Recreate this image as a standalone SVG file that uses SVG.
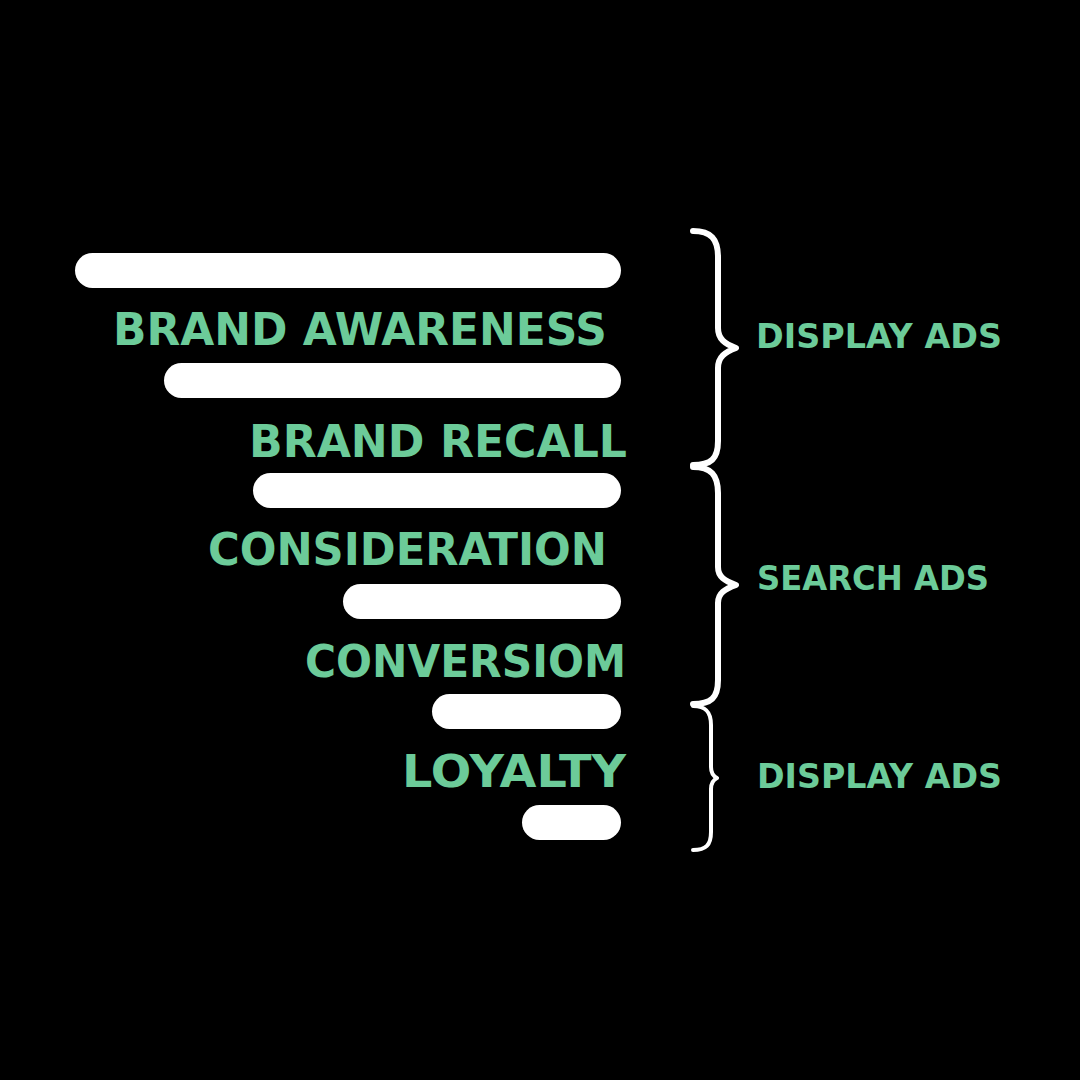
<svg xmlns="http://www.w3.org/2000/svg" width="1080" height="1080" viewBox="0 0 1080 1080">
<style>
.bar{fill:#ffffff}
.lbl{font-family:"DejaVu Sans","Liberation Sans",sans-serif;font-weight:bold;fill:#6ccb99;font-size:44px;text-anchor:end}
.ads{font-family:"DejaVu Sans","Liberation Sans",sans-serif;font-weight:bold;fill:#6ccb99;font-size:33px}
.brace{fill:none;stroke:#ffffff;stroke-linecap:round;stroke-linejoin:round}
</style>
<rect width="1080" height="1080" fill="#000000"/>
<g id="bar1"><rect class="bar" x="75" y="253" width="546" height="35" rx="17.5"/></g>
<g id="n-brand-awareness"><text class="lbl" x="607" y="345" textLength="494" lengthAdjust="spacingAndGlyphs">BRAND AWARENESS</text></g>
<g id="bar2"><rect class="bar" x="164" y="363" width="457" height="35" rx="17.5"/></g>
<g id="n-brand-recall"><text class="lbl" x="627" y="457" textLength="378" lengthAdjust="spacingAndGlyphs">BRAND RECALL</text></g>
<g id="bar3"><rect class="bar" x="253" y="473" width="368" height="35" rx="17.5"/></g>
<g id="n-consideration"><text class="lbl" x="607" y="565" textLength="399" lengthAdjust="spacingAndGlyphs">CONSIDERATION</text></g>
<g id="bar4"><rect class="bar" x="343" y="584" width="278" height="35" rx="17.5"/></g>
<g id="n-conversiom"><text class="lbl" x="626" y="677" textLength="321" lengthAdjust="spacingAndGlyphs">CONVERSIOM</text></g>
<g id="bar5"><rect class="bar" x="432" y="694" width="189" height="35" rx="17.5"/></g>
<g id="n-loyalty"><text class="lbl" x="626" y="787" textLength="224" lengthAdjust="spacingAndGlyphs">LOYALTY</text></g>
<g id="bar6"><rect class="bar" x="522" y="805" width="99" height="35" rx="17.5"/></g>
<g id="connectors">
<path class="brace" stroke-width="6" d="M 693 231 C 711 231 718 239 718 257 L 718 328 C 718 339 725 344 736 348 C 725 352 718 357 718 368 L 718 441 C 718 459 711 465 693 465"/>
<path class="brace" stroke-width="6" d="M 693 467 C 711 467 718 475 718 493 L 718 567 C 718 577 725 581 736 585 C 725 589 718 593 718 603 L 718 680 C 718 698 711 704 693 704"/>
<path class="brace" stroke-width="4" d="M 693 706 C 706 706 711 712 711 725 L 711 767 C 711 772 713 776 717 778 C 713 780 711 784 711 789 L 711 832 C 711 845 706 850 693 850"/>
</g>
<g id="g-display1"><text class="ads" x="756" y="348" textLength="246" lengthAdjust="spacingAndGlyphs">DISPLAY ADS</text></g>
<g id="g-search"><text class="ads" x="757" y="590" textLength="232" lengthAdjust="spacingAndGlyphs">SEARCH ADS</text></g>
<g id="g-display2"><text class="ads" x="757" y="788" textLength="245" lengthAdjust="spacingAndGlyphs">DISPLAY ADS</text></g>
</svg>
